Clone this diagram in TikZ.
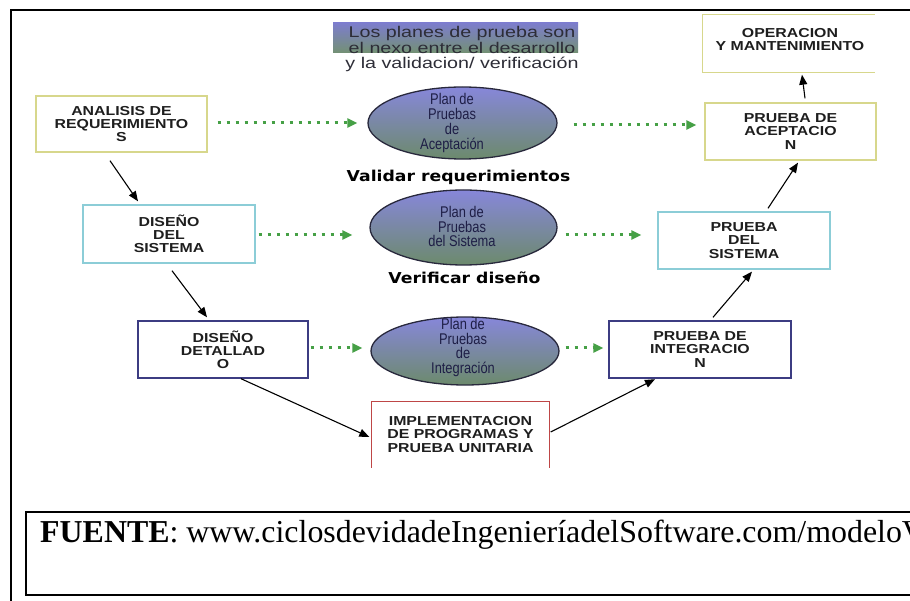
\documentclass[tikz,border=0pt]{standalone}
\usepackage{fontspec}
\setmainfont{Liberation Serif}
\newfontfamily\notefont[FakeStretch=1.27]{Liberation Sans}
\newfontfamily\boxfont[FakeStretch=1.22]{Liberation Sans}
\newfontfamily\planfont[FakeStretch=0.83]{Liberation Sans}
\newfontfamily\tagfont[FakeStretch=1.15]{DejaVu Sans}
\usetikzlibrary{arrows.meta,shapes.geometric,calc}

\definecolor{yelborder}{RGB}{215,215,140}
\definecolor{cyanborder}{RGB}{140,205,215}
\definecolor{navyborder}{RGB}{60,60,130}
\definecolor{redborder}{RGB}{190,70,70}
\definecolor{dotgreen}{RGB}{70,160,70}
\definecolor{plantop}{RGB}{135,135,218}
\definecolor{planbottom}{RGB}{108,138,108}
\definecolor{planborder}{RGB}{40,40,60}
\definecolor{notetop}{RGB}{125,125,205}
\definecolor{notebottom}{RGB}{115,145,115}
\definecolor{notetext}{RGB}{45,45,55}
\definecolor{plantext}{RGB}{30,30,70}
\definecolor{boxtext}{RGB}{30,30,30}

\tikzset{
  stagebox/.style={draw, line width=1.4pt, rectangle, inner sep=0pt,
    align=center, text=boxtext,
    font=\boxfont\bfseries\fontsize{13}{13.2}\selectfont},
  openbox/.style={stagebox, draw=none},
  plan/.style={ellipse, draw=planborder, line width=1.3pt, inner sep=0pt,
    top color=plantop, bottom color=planbottom},
  plantxt/.style={align=center, inner sep=0pt, text=plantext,
    font=\planfont\fontsize{15.5}{14.8}\selectfont},
  tagtxt/.style={inner sep=0pt, text=black,
    font=\tagfont\bfseries\fontsize{15}{16}\selectfont},
  flow/.style={draw=black, line width=1.1pt,
    -{Triangle[length=10pt,width=8pt]}},
  plandot/.style={draw=dotgreen, line width=3pt,
    dash pattern=on 3.5pt off 5.5pt,
    -{Triangle[length=10pt,width=9pt,fill=dotgreen]}},
}

\begin{document}
\begin{tikzpicture}[x=1pt, y=-1pt]
\useasboundingbox (0,0) rectangle (910,601);
\clip (0,0) rectangle (910,601);
\fill[white] (0,0) rectangle (910,601);

% outer frame (left and top edges)
\draw[line width=2pt] (11,601) -- (11,10) -- (915,10);

% heading note
\shade[top color=notetop, bottom color=notebottom] (333,23) rectangle (578,53);
\node[align=center, inner sep=0pt, text=notetext,
      font=\notefont\fontsize{15.5}{15.5}\selectfont] (note) at (462,49)
  {Los planes de prueba son\\el nexo entre el desarrollo\\y la validacion/ verificación};

% development side
\node[stagebox, draw=yelborder, minimum width=171pt, minimum height=56pt] (req) at (121.5,124)
  {ANALISIS DE\\REQUERIMIENTO\\S};
\node[stagebox, draw=cyanborder, minimum width=172pt, minimum height=58pt] (dsis) at (169,234)
  {DISEÑO\\DEL\\SISTEMA};
\node[stagebox, draw=navyborder, minimum width=170pt, minimum height=57pt] (ddet) at (223,349.5)
  {DISEÑO\\DETALLAD\\O};
\node[openbox, minimum width=177pt, minimum height=65pt] (impl) at (460.5,434.5)
  {IMPLEMENTACION\\DE PROGRAMAS Y\\PRUEBA UNITARIA};
\draw[draw=redborder, line width=1.4pt] (impl.south west) -- (impl.north west) -- (impl.north east) -- (impl.south east);

% test side
\node[stagebox, draw=navyborder, minimum width=182pt, minimum height=57pt] (integ) at (700,349.5)
  {PRUEBA DE\\INTEGRACIO\\N};
\node[stagebox, draw=cyanborder, minimum width=172pt, minimum height=57pt] (psis) at (744,240.5)
  {PRUEBA\\DEL\\SISTEMA};
\node[stagebox, draw=yelborder, minimum width=171pt, minimum height=57pt] (acep) at (790.5,131.5)
  {PRUEBA DE\\ACEPTACIO\\N};
\node[openbox, minimum width=171pt, minimum height=57pt] (oper) at (788.5,43.5) {};
\draw[draw=yelborder, line width=1.4pt] (oper.north east) -- (oper.north west) -- (oper.south west) -- (oper.south east);
\node[openbox] (opertxt) at (790,39.5) {OPERACION\\Y MANTENIMIENTO};

% test plans
\node[plan, minimum width=189pt, minimum height=72pt] (e1) at (462.5,123) {};
\node[plantxt] (e1t) at (452,123) {Plan de\\Pruebas\\de\\Aceptación};
\node[plan, minimum width=187pt, minimum height=75pt] (e2) at (463.5,227.5) {};
\node[plantxt] (e2t) at (462,226.5) {Plan de\\Pruebas\\del Sistema};
\node[plan, minimum width=188pt, minimum height=68pt] (e3) at (465,351) {};
\node[plantxt] (e3t) at (463,347.5) {Plan de\\Pruebas\\de\\Integración};

\node[tagtxt] (val) at (458.5,177) {Validar requerimientos};
\node[tagtxt] (ver) at (464.5,278) {Verificar diseño};

% descending and ascending flow
\draw[flow] ($(req.south)+(-11.5,8)$) -- ($(dsis.north)+(-31,-3)$);
\draw[flow] ($(dsis.south)+(3,7)$) -- ($(ddet.north)+(-16,-3)$);
\draw[flow] ($(ddet.south)+(18,0)$) -- ($(impl.west)+(-2,2.5)$);
\draw[flow] ($(impl.east)+(1,-2.5)$) -- ($(integ.south)+(-45,0.5)$);
\draw[flow] ($(integ.north)+(13,-3)$) -- ($(psis.south)+(8,2)$);
\draw[flow] ($(psis.north)+(24,-3)$) -- ($(acep.south)+(7.5,2)$);
\draw[flow] ($(acep.north)+(14.5,-4)$) -- ($(oper.south)+(13.5,2)$);

% plan links
\draw[plandot] ($(req.east)+(10,-1)$) -- ($(e1.west)+(-10,0)$);
\draw[plandot] ($(e1.east)+(16,2)$) -- ($(acep.west)+(-8,-6.5)$);
\draw[plandot] ($(dsis.east)+(3,1)$) -- ($(e2.west)+(-17,7.5)$);
\draw[plandot] ($(e2.east)+(8,7.5)$) -- ($(psis.west)+(-16,-5.5)$);
\draw[plandot] ($(ddet.east)+(2,-1.5)$) -- ($(e3.west)+(-8,-3)$);
\draw[plandot] ($(e3.east)+(6,-3)$) -- ($(integ.west)+(-5,-1.5)$);

% source box
\draw[line width=2pt] (960,512) -- (26,512) -- (26,595) -- (960,595);
\node[anchor=base west, inner sep=0pt, font=\fontsize{31.9}{36}\selectfont] (fuente) at (40,542)
  {\textbf{FUENTE}: www.ciclosdevidadeIngenieríadelSoftware.com/modeloV};
\end{tikzpicture}
\end{document}
